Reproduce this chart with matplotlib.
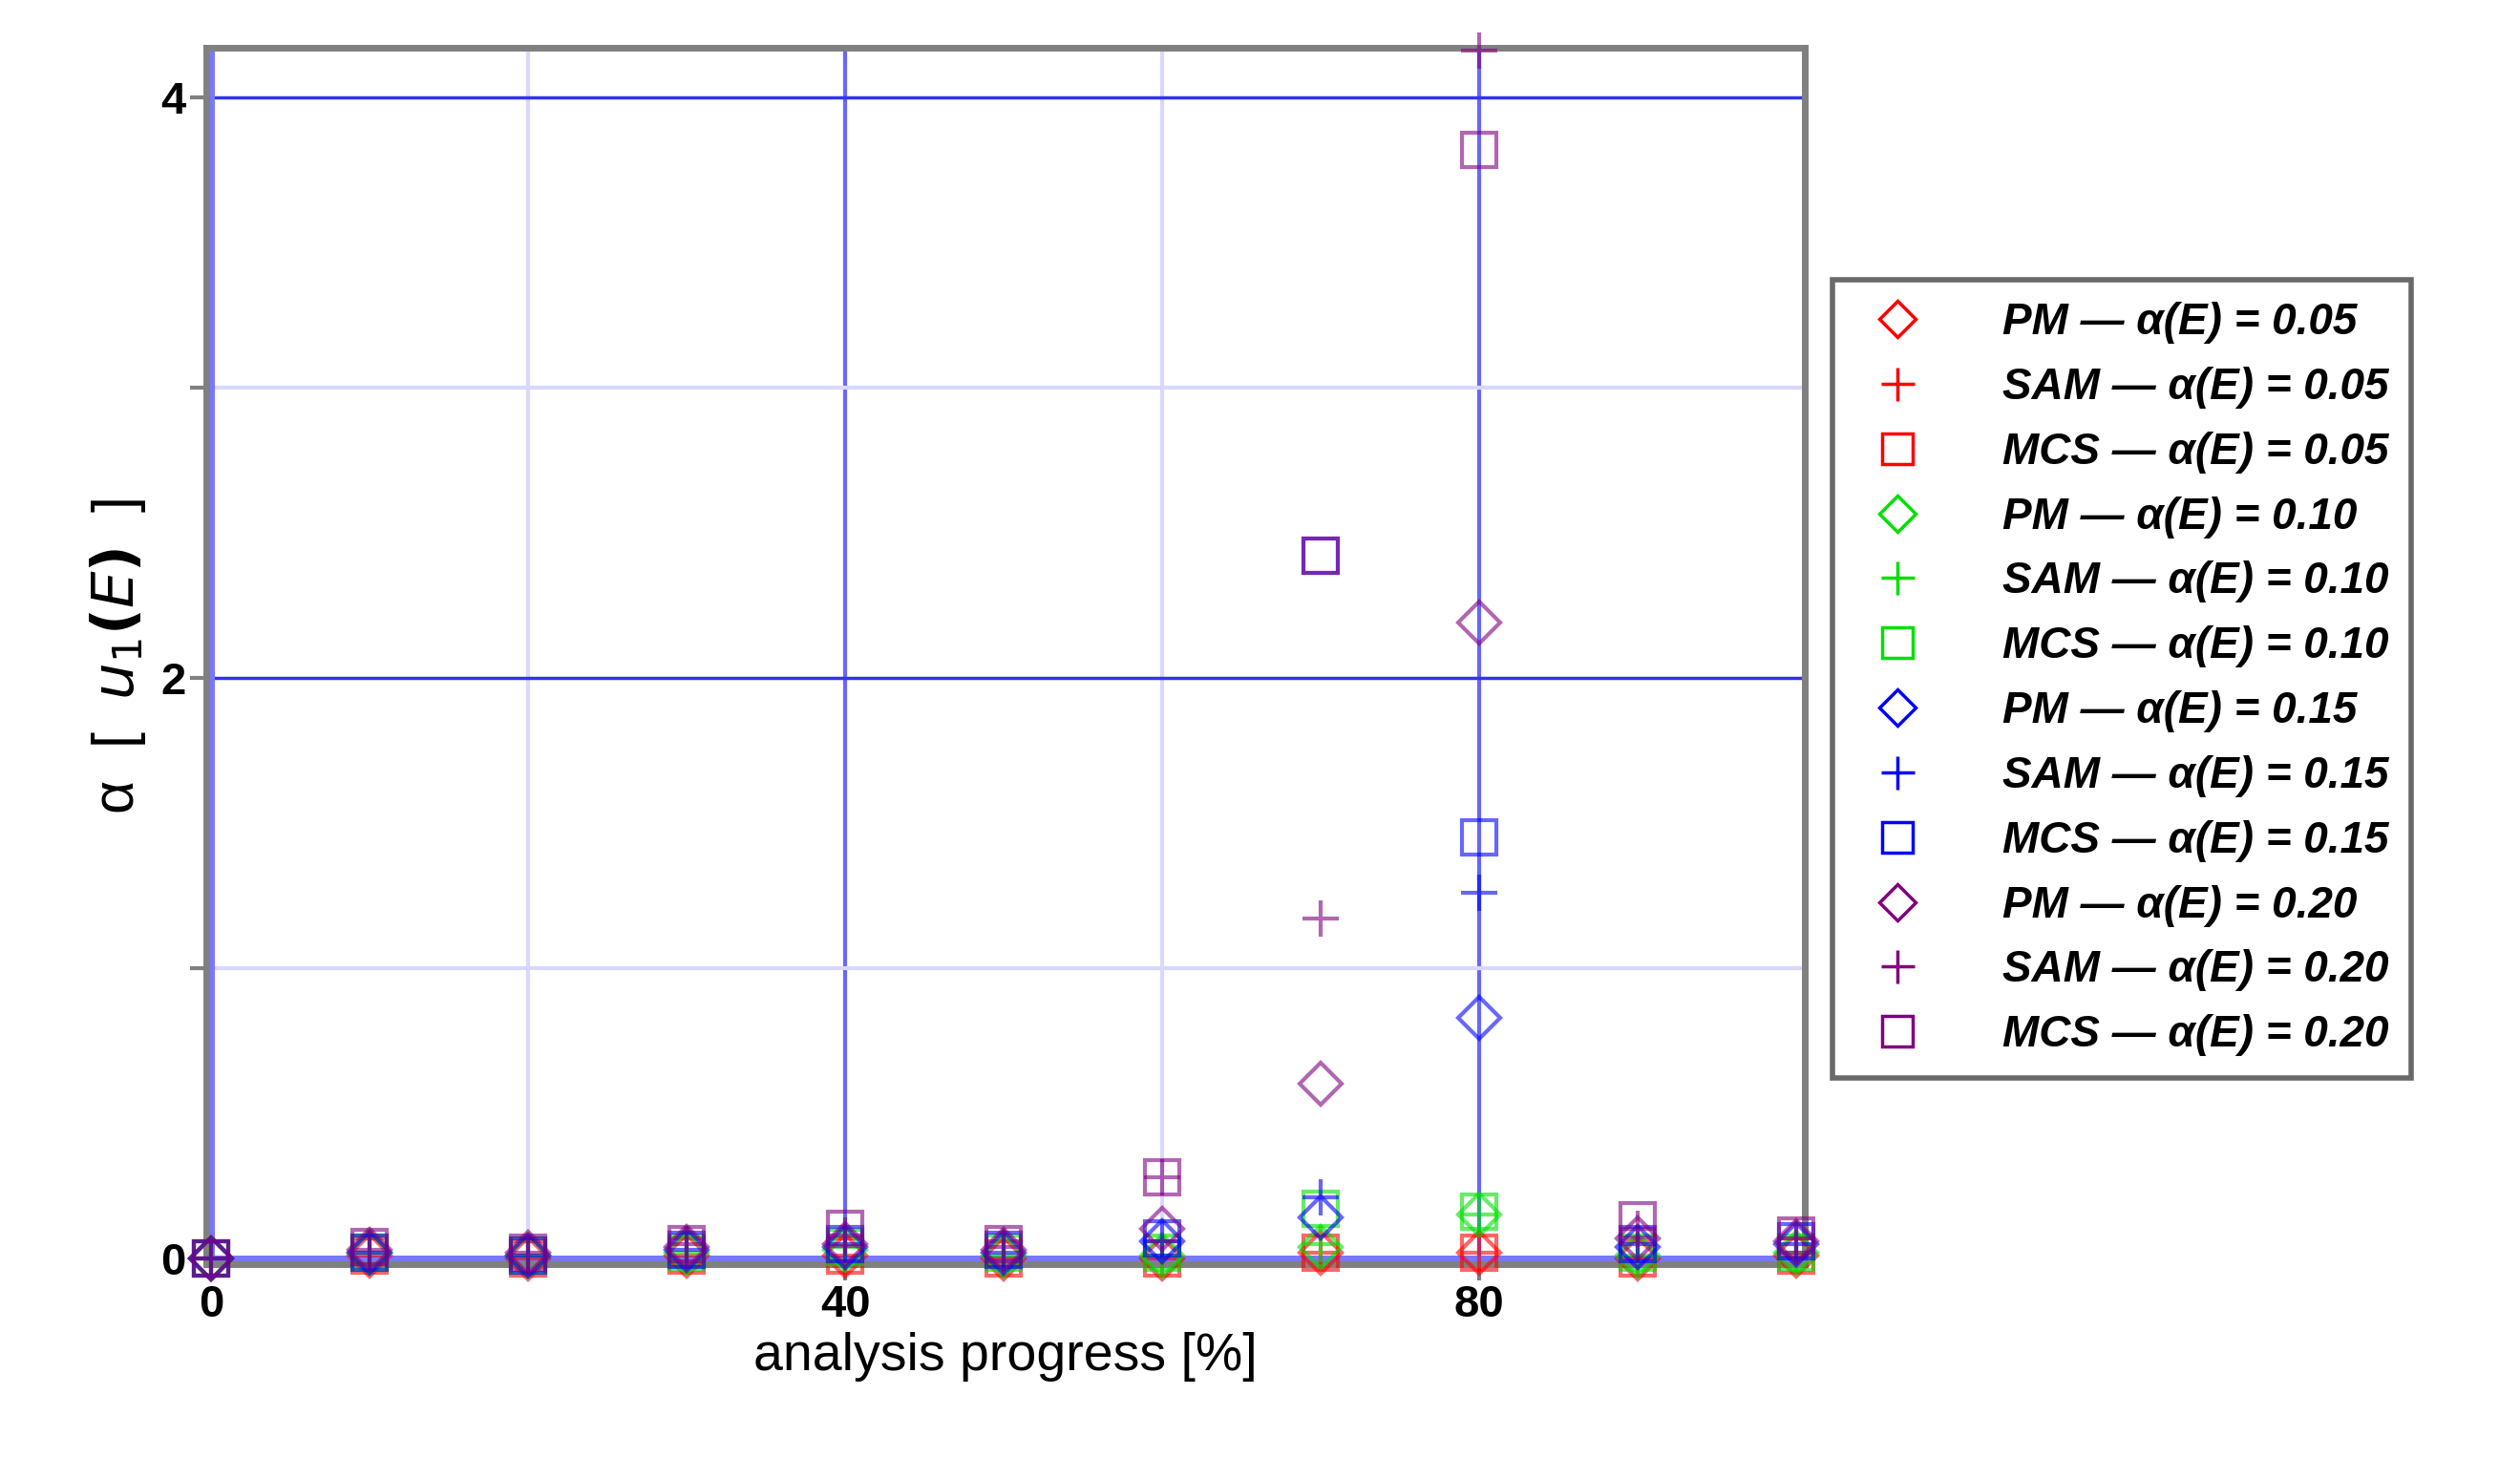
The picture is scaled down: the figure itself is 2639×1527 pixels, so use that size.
import numpy as np
import matplotlib.pyplot as plt
from matplotlib.lines import Line2D

plt.rcParams['font.family'] = ['Liberation Sans', 'DejaVu Sans']

progress = [0, 10, 20, 30, 40, 50, 60, 70, 80, 90, 100]

# values, one list per method / alpha(E)
pm_05 = [0.0, 0.01, 0.0, 0.01, 0.01, 0.0, 0.0, 0.02, 0.02, 0.0, 0.01]
sam_05 = [0.0, 0.01, 0.0, 0.01, 0.01, 0.0, 0.0, 0.02, 0.02, 0.0, 0.01]
mcs_05 = [0.0, 0.01, 0.0, 0.01, 0.01, 0.0, 0.0, 0.02, 0.02, 0.0, 0.01]
pm_10 = [0.0, 0.02, 0.01, 0.02, 0.03, 0.01, 0.01, 0.04, 0.15, 0.01, 0.02]
sam_10 = [0.0, 0.02, 0.01, 0.02, 0.04, 0.01, 0.01, 0.05, 0.15, 0.01, 0.02]
mcs_10 = [0.0, 0.02, 0.01, 0.02, 0.04, 0.02, 0.02, 0.17, 0.16, 0.02, 0.02]
pm_15 = [0.0, 0.02, 0.01, 0.03, 0.04, 0.02, 0.06, 0.14, 0.83, 0.04, 0.05]
sam_15 = [0.0, 0.02, 0.01, 0.03, 0.05, 0.02, 0.06, 0.21, 1.26, 0.05, 0.05]
mcs_15 = [0.0, 0.02, 0.01, 0.03, 0.05, 0.03, 0.07, 2.42, 1.45, 0.05, 0.06]
pm_20 = [0.0, 0.03, 0.02, 0.04, 0.05, 0.03, 0.10, 0.60, 2.19, 0.07, 0.06]
sam_20 = [0.0, 0.03, 0.02, 0.05, 0.08, 0.04, 0.28, 1.17, 4.16, 0.10, 0.07]
mcs_20 = [0.0, 0.04, 0.02, 0.05, 0.10, 0.05, 0.28, 2.42, 3.82, 0.13, 0.08]

series = [
    ("PM", "0.05", pm_05, "D", "red"),
    ("SAM", "0.05", sam_05, "+", "red"),
    ("MCS", "0.05", mcs_05, "s", "red"),
    ("PM", "0.10", pm_10, "D", "#00e000"),
    ("SAM", "0.10", sam_10, "+", "#00e000"),
    ("MCS", "0.10", mcs_10, "s", "#00e000"),
    ("PM", "0.15", pm_15, "D", "blue"),
    ("SAM", "0.15", sam_15, "+", "blue"),
    ("MCS", "0.15", mcs_15, "s", "blue"),
    ("PM", "0.20", pm_20, "D", "purple"),
    ("SAM", "0.20", sam_20, "+", "purple"),
    ("MCS", "0.20", mcs_20, "s", "purple"),
]

fig = plt.figure(figsize=(26.39, 15.27), dpi=100)
ax = fig.add_axes([0.082, 0.133, 0.634, 0.834])

# grid
for gx in [40, 80]:
    ax.axvline(gx, color="#6666ff", lw=3, zorder=1)
for gx in [20, 60]:
    ax.axvline(gx, color="#d8d8ff", lw=3, zorder=1)
for gy in [2, 4]:
    ax.axhline(gy, color="#3333ee", lw=2.5, zorder=1)
for gy in [1, 3]:
    ax.axhline(gy, color="#d8d8ff", lw=3, zorder=1)
ax.axhline(0, color="#7777ff", lw=5, zorder=1)
ax.axvline(0, color="#7777ff", lw=5, zorder=1)

handles = []
for name, a, vals, m, c in series:
    ms = 28 if m == "+" else (22 if m == "D" else 26)
    ax.plot(progress, vals, ls="none", marker=m, ms=ms, mfc="none", mec=c,
            mew=3, alpha=0.6, zorder=3, clip_on=False)
    handles.append(Line2D([], [], ls="none", marker=m, ms=ms * 0.9, mfc="none",
                          mec=c, mew=2.5,
                          label="%s — α(E) = %s" % (name, a)))

ax.set_xlim(-0.3, 100.5)
ax.set_ylim(-0.02, 4.17)
ax.set_xticks([0, 40, 80])
ax.set_yticks([0, 2, 4])
ax.set_yticks([1, 3], minor=True)
ax.tick_params(labelsize=34, width=3, length=12, color="grey")
ax.tick_params(which="minor", width=3, length=12, color="grey")
for lab in ax.get_xticklabels() + ax.get_yticklabels():
    lab.set_fontweight("bold")
for s in ax.spines.values():
    s.set_color("grey")
    s.set_linewidth(5)

ax.set_xlabel("analysis progress [%]", fontsize=40, labelpad=4)
ax.set_ylabel(r"α  [  $\mathbf{\mathit{u}}_{1}$$\mathbf{(\mathit{E})}$  ]", fontsize=44, labelpad=10)

leg = fig.legend(handles=handles, loc="upper left", bbox_to_anchor=(0.727, 0.808),
                 frameon=True, fancybox=False, edgecolor="#444444",
                 handletextpad=1.4, labelspacing=0.52, borderpad=0.5, borderaxespad=0,
                 prop={"weight": "bold", "style": "italic", "size": 33})
leg.get_frame().set_linewidth(4)

fig.savefig("out.png", dpi=100)
